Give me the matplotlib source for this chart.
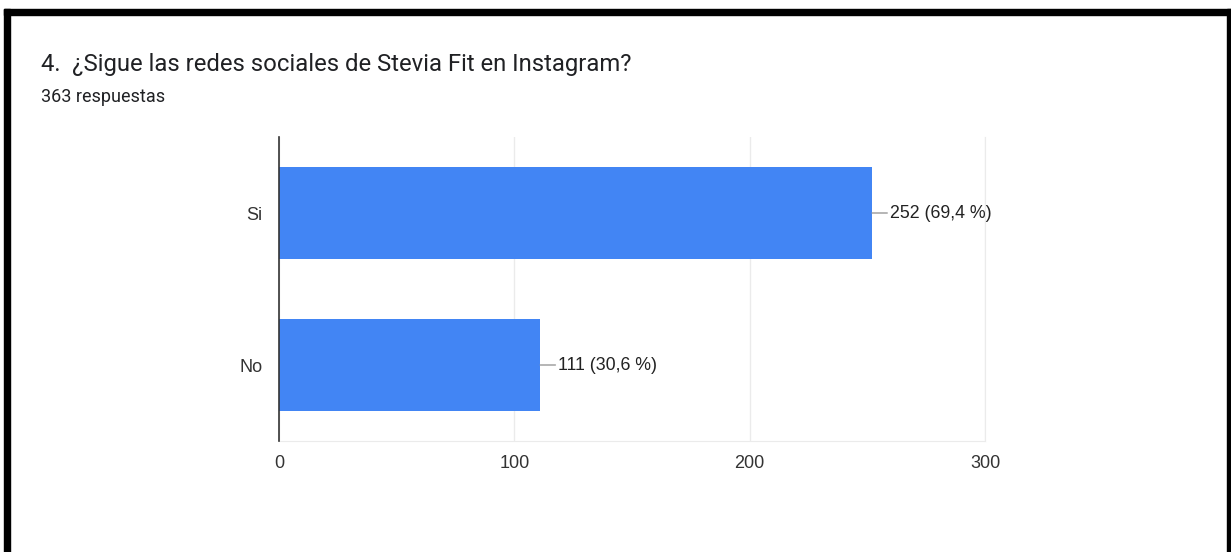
import matplotlib.pyplot as plt
from matplotlib.patches import Rectangle

# datos de la encuesta
categorias = ["Si", "No"]
respuestas = [252, 111]
porcentajes = ["69,4", "30,6"]
total = 363
ticks_x = [0, 100, 200, 300]

titulo = "4.  ¿Sigue las redes sociales de Stevia Fit en Instagram?"
subtitulo = f"{total} respuestas"

W, H = 1231, 552
fig = plt.figure(figsize=(W / 100, H / 100), dpi=100)
fig.patch.set_facecolor("white")

# marco negro de la captura
for (x0, y0, w, h) in [(4, 9, W - 4, 6), (4, 9, 6, H - 9), (1227, 9, 4, H - 9)]:
    fig.patches.append(Rectangle((x0 / W, 1 - (y0 + h) / H), w / W, h / H,
                                 transform=fig.transFigure, color="black", zorder=10))

fig.text(41 / W, 1 - 64 / H, titulo, fontsize=17.2, family="Roboto",
         color="#202124", va="center", ha="left")
fig.text(41 / W, 1 - 97 / H, subtitulo, fontsize=13, family="Roboto",
         color="#202124", va="center", ha="left")

left, right, top, bottom = 279, 985, 137, 441
ax = fig.add_axes([left / W, 1 - bottom / H, (right - left) / W, (bottom - top) / H])

y = list(range(len(categorias)))
ax.barh(y, respuestas, height=0.61, color="#4285f4", zorder=2)
ax.set_ylim(len(categorias) - 0.5, -0.5)
ax.set_xlim(0, 300)
ax.set_yticks(y)
ax.set_yticklabels(categorias)
ax.set_xticks(ticks_x)
ax.set_xticklabels([str(t) for t in ticks_x])
ax.tick_params(length=0, labelsize=13, labelcolor="#333333")
ax.tick_params(axis="y", pad=12)
ax.tick_params(axis="x", pad=10)
for lab in ax.get_xticklabels() + ax.get_yticklabels():
    lab.set_family("Liberation Sans")

ax.grid(axis="x", color="#ebebeb", linewidth=1, zorder=0)
ax.spines["top"].set_visible(False)
ax.spines["right"].set_color("#ebebeb")
ax.spines["bottom"].set_color("#ebebeb")
ax.spines["left"].set_color("#333333")
ax.spines["left"].set_linewidth(1.2)
ax.spines["left"].set_zorder(3)

for yi, v, p in zip(y, respuestas, porcentajes):
    ax.annotate(f"{v} ({p} %)", xy=(v, yi), xytext=(18, 0), textcoords="offset pixels",
                va="center", ha="left", fontsize=12.8, family="Liberation Sans",
                color="#222222",
                arrowprops=dict(arrowstyle="-", color="#999999", lw=1,
                                shrinkA=0, shrinkB=0))

fig.savefig("out.png", dpi=100)
